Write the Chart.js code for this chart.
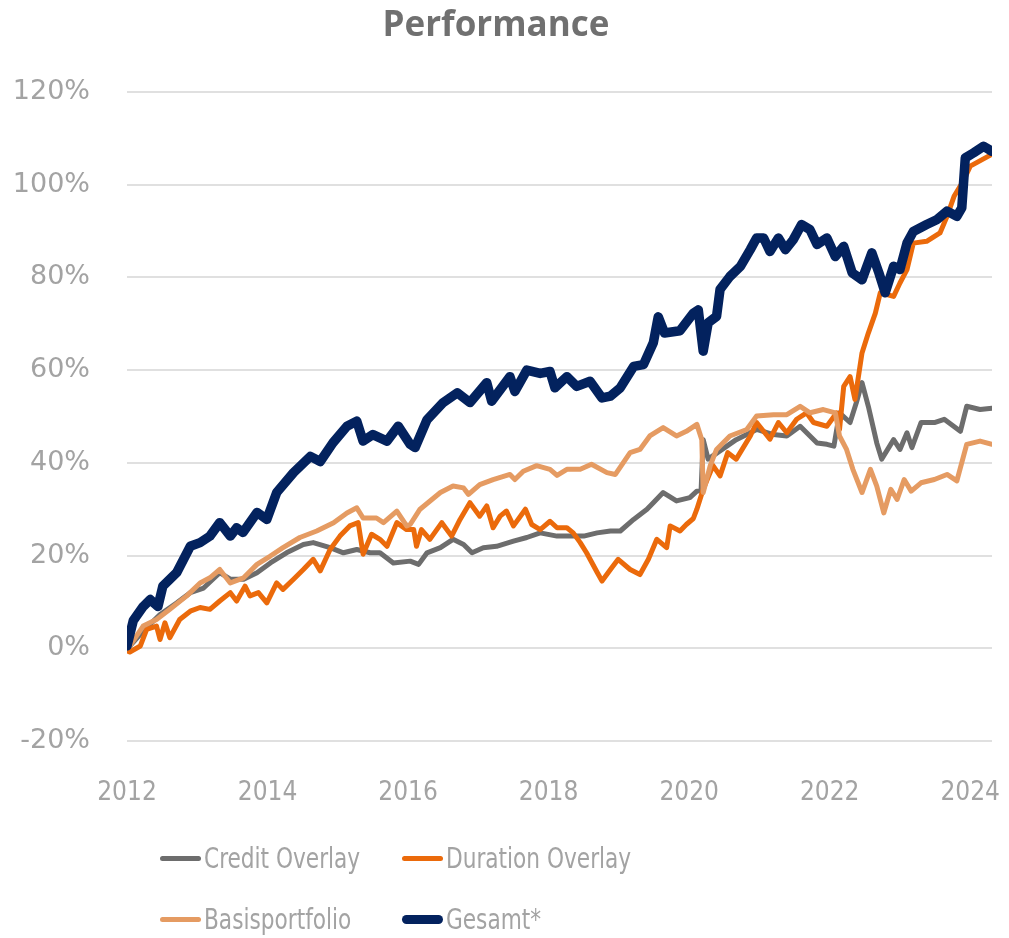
<!DOCTYPE html>
<html>
<head>
<meta charset="utf-8">
<script src="https://cdn.jsdelivr.net/npm/chart.js@4.4.1/dist/chart.umd.min.js"></script>
<style>
  body { margin: 0; background: #fff; }
  #wrap { position: relative; width: 1009px; height: 938px; }
  #legend {
    position: absolute; left: 160px; top: 828px;
    display: grid; grid-template-columns: 242px auto; grid-auto-rows: 61px;
    font-family: 'DejaVu Sans Condensed', 'DejaVu Sans', sans-serif;
    font-size: 28px; color: #a3a3a3;
  }
  .item { display: flex; align-items: center; white-space: nowrap; }
  .mark { display: inline-block; width: 41px; border-radius: 5px; margin-right: 3px; flex: none; }
  .txt { display: inline-block; transform: scaleX(0.86); transform-origin: left center; }
</style>
</head>
<body>
<div id="wrap">
  <canvas id="perf" width="1009" height="938"></canvas>
  <div id="legend"></div>
</div>
<script>
// values, in % ; x = year
const creditX = [2012.0, 2012.04, 2012.23, 2012.47, 2012.71, 2012.9, 2013.09, 2013.32, 2013.47, 2013.66, 2013.85, 2014.04, 2014.27, 2014.51, 2014.65, 2014.89, 2015.08, 2015.27, 2015.46, 2015.6, 2015.79, 2016.03, 2016.15, 2016.27, 2016.46, 2016.64, 2016.79, 2016.91, 2017.07, 2017.26, 2017.5, 2017.69, 2017.88, 2018.12, 2018.31, 2018.5, 2018.69, 2018.88, 2019.02, 2019.21, 2019.4, 2019.49, 2019.63, 2019.82, 2020.01, 2020.11, 2020.17, 2020.2, 2020.27, 2020.47, 2020.67, 2020.96, 2021.2, 2021.39, 2021.58, 2021.82, 2021.96, 2022.06, 2022.14, 2022.29, 2022.38, 2022.46, 2022.55, 2022.67, 2022.74, 2022.91, 2023.0, 2023.1, 2023.17, 2023.3, 2023.49, 2023.63, 2023.86, 2023.95, 2024.14, 2024.31];
const creditY = [0, 0.5, 3.7, 7.3, 9.8, 12, 13, 16.3, 14.9, 14.9, 16.3, 18.4, 20.6, 22.4, 22.8, 21.7, 20.6, 21.3, 20.6, 20.6, 18.4, 18.8, 18.1, 20.6, 21.7, 23.5, 22.4, 20.6, 21.7, 22, 23.1, 23.9, 24.9, 24.2, 24.2, 24.2, 24.9, 25.3, 25.3, 27.8, 30, 31.4, 33.6, 31.8, 32.5, 33.9, 34, 45, 40.8, 42.9, 45, 47.2, 46.1, 45.8, 47.9, 44.3, 44, 43.6, 50.8, 48.7, 53, 57.3, 52.2, 44.3, 40.8, 45, 42.9, 46.5, 43.3, 48.7, 48.7, 49.4, 46.8, 52.2, 51.5, 51.8];

const durationX = [2012.0, 2012.04, 2012.19, 2012.28, 2012.42, 2012.47, 2012.54, 2012.61, 2012.75, 2012.9, 2013.04, 2013.18, 2013.32, 2013.47, 2013.56, 2013.68, 2013.75, 2013.87, 2013.99, 2014.13, 2014.22, 2014.37, 2014.51, 2014.65, 2014.75, 2014.89, 2015.03, 2015.17, 2015.29, 2015.36, 2015.48, 2015.6, 2015.7, 2015.84, 2015.98, 2016.08, 2016.12, 2016.19, 2016.31, 2016.48, 2016.62, 2016.74, 2016.88, 2017.02, 2017.12, 2017.21, 2017.31, 2017.4, 2017.5, 2017.67, 2017.76, 2017.88, 2018.02, 2018.12, 2018.26, 2018.35, 2018.45, 2018.54, 2018.69, 2018.76, 2018.88, 2018.99, 2019.16, 2019.3, 2019.42, 2019.54, 2019.68, 2019.73, 2019.87, 2019.96, 2020.06, 2020.11, 2020.2, 2020.34, 2020.44, 2020.55, 2020.67, 2020.87, 2020.96, 2021.15, 2021.27, 2021.39, 2021.53, 2021.67, 2021.77, 2021.96, 2022.1, 2022.14, 2022.2, 2022.29, 2022.36, 2022.46, 2022.55, 2022.65, 2022.72, 2022.91, 2023.0, 2023.1, 2023.19, 2023.38, 2023.57, 2023.67, 2023.77, 2023.91, 2024.0, 2024.3];
const durationY = [-0.5, -0.8, 0.5, 4.1, 4.8, 1.9, 5.5, 2.3, 6.2, 8, 8.8, 8.4, 10.2, 12, 10.2, 13.4, 11.3, 12, 9.8, 14.1, 12.7, 14.9, 17, 19.2, 16.7, 21.3, 24.2, 26.4, 27.1, 20.3, 24.6, 23.5, 22, 27.1, 25.6, 25.6, 22, 25.6, 23.5, 27.1, 24.2, 27.8, 31.4, 28.5, 30.7, 26, 28.5, 29.6, 26.4, 30, 26.7, 25.6, 27.4, 26, 26, 24.9, 22.8, 20.6, 16.4, 14.5, 17, 19.2, 17, 15.9, 19.2, 23.5, 21.7, 26.4, 25.3, 26.7, 28, 30, 34.3, 39.4, 37.2, 42.2, 40.8, 45.8, 48.7, 45.1, 48.7, 46.5, 49.4, 50.8, 48.7, 47.9, 50.8, 47.2, 56.5, 58.6, 53.7, 63.7, 68, 72.3, 76.7, 75.9, 78.8, 81.7, 87.4, 87.8, 89.6, 93.2, 97.5, 101, 104, 106.5];

const basisX = [2012.0, 2012.04, 2012.23, 2012.42, 2012.61, 2012.85, 2013.04, 2013.18, 2013.32, 2013.47, 2013.66, 2013.85, 2014.04, 2014.22, 2014.46, 2014.7, 2014.94, 2015.13, 2015.27, 2015.36, 2015.55, 2015.65, 2015.84, 2015.98, 2016.03, 2016.17, 2016.46, 2016.64, 2016.79, 2016.86, 2017.02, 2017.21, 2017.45, 2017.52, 2017.64, 2017.83, 2018.02, 2018.12, 2018.26, 2018.45, 2018.61, 2018.83, 2018.95, 2019.16, 2019.3, 2019.44, 2019.63, 2019.82, 2019.96, 2020.11, 2020.18, 2020.2, 2020.3, 2020.39, 2020.58, 2020.82, 2020.96, 2021.2, 2021.39, 2021.58, 2021.72, 2021.91, 2022.08, 2022.14, 2022.24, 2022.33, 2022.46, 2022.58, 2022.67, 2022.77, 2022.87, 2022.96, 2023.06, 2023.16, 2023.3, 2023.49, 2023.67, 2023.81, 2023.95, 2024.14, 2024.31];
const basisY = [0, 0.5, 4.8, 6.2, 8.4, 11.3, 14.1, 15.2, 17, 14.1, 15.2, 18.1, 19.9, 21.7, 23.9, 25.3, 27.1, 29.2, 30.3, 28.1, 28.1, 27.1, 29.6, 26.4, 26.7, 30, 33.6, 35, 34.6, 33.2, 35.3, 36.4, 37.5, 36.4, 38.2, 39.4, 38.6, 37.3, 38.6, 38.6, 39.7, 37.9, 37.5, 42.2, 42.9, 45.8, 47.6, 45.8, 46.8, 48.3, 45, 33.6, 39.4, 42.9, 45.8, 47.2, 50.1, 50.4, 50.4, 52.2, 50.8, 51.5, 50.8, 45.8, 42.9, 38.6, 33.6, 38.6, 35, 29.2, 34.3, 32.1, 36.4, 33.9, 35.7, 36.4, 37.5, 36.1, 44, 44.7, 44];

const gesamtX = [2012.0, 2012.09, 2012.23, 2012.33, 2012.44, 2012.51, 2012.71, 2012.9, 2013.04, 2013.18, 2013.32, 2013.47, 2013.56, 2013.65, 2013.85, 2013.99, 2014.13, 2014.37, 2014.61, 2014.75, 2014.93, 2015.13, 2015.27, 2015.36, 2015.5, 2015.7, 2015.86, 2016.03, 2016.1, 2016.27, 2016.5, 2016.7, 2016.88, 2017.12, 2017.19, 2017.45, 2017.52, 2017.69, 2017.88, 2018.02, 2018.09, 2018.26, 2018.4, 2018.59, 2018.76, 2018.88, 2019.02, 2019.21, 2019.35, 2019.49, 2019.56, 2019.65, 2019.87, 2020.06, 2020.13, 2020.2, 2020.27, 2020.39, 2020.44, 2020.58, 2020.73, 2020.87, 2020.96, 2021.06, 2021.15, 2021.27, 2021.37, 2021.48, 2021.6, 2021.72, 2021.82, 2021.96, 2022.08, 2022.2, 2022.32, 2022.46, 2022.6, 2022.7, 2022.79, 2022.91, 2023.0, 2023.1, 2023.19, 2023.38, 2023.53, 2023.67, 2023.81, 2023.88, 2023.93, 2024.05, 2024.19, 2024.31];
const gesamtY = [0.5, 6, 9, 10.5, 9, 13.4, 16.4, 22, 22.8, 24.2, 27.1, 24.2, 26, 25, 29.3, 27.8, 33.6, 37.9, 41.4, 40.3, 44.3, 47.9, 49, 44.7, 46.1, 44.7, 47.9, 44, 43.3, 49.3, 53, 55.1, 53, 57.3, 53.3, 58.6, 55.4, 60, 59.3, 59.7, 56.2, 58.6, 56.5, 57.6, 54, 54.4, 56.2, 60.8, 61.2, 65.9, 71.5, 68, 68.5, 72.3, 73, 64.1, 70.2, 71.6, 77.4, 80.2, 82.4, 86, 88.5, 88.5, 85.6, 88.5, 86, 88.1, 91.4, 90.3, 87.1, 88.5, 84.5, 86.7, 81, 79.5, 85.3, 81, 76.7, 82.4, 81.7, 87.4, 89.9, 91.4, 92.5, 94.3, 93.2, 95, 105.8, 106.9, 108.3, 107.2];

const seriesNames = ['Credit Overlay', 'Duration Overlay', 'Basisportfolio', 'Gesamt*'];
const seriesColors = ['#6d6d6d', '#eb6a0b', '#e59b62', '#03225e'];
const seriesWidths = [5, 5, 5, 9.5];
const yTicks = { min: -20, max: 120, step: 20 };
const xTicks = { min: 2012, max: 2024.31, step: 2 };

function pts(xs, ys) {
  return xs.map((x, i) => ({ x: x, y: ys[i] }));
}

const allData = [pts(creditX, creditY), pts(durationX, durationY), pts(basisX, basisY), pts(gesamtX, gesamtY)];

const datasets = seriesNames.map((name, i) => ({
  label: name,
  data: allData[i],
  borderColor: seriesColors[i],
  backgroundColor: seriesColors[i],
  borderWidth: seriesWidths[i],
  pointRadius: 0,
  tension: 0,
  borderJoinStyle: 'round',
  borderCapStyle: 'round',
  order: 3 - i // later series on top
}));

new Chart(document.getElementById('perf'), {
  type: 'line',
  data: { datasets: datasets },
  options: {
    responsive: false,
    animation: false,
    layout: { padding: { left: 0, right: 17, top: 0, bottom: 0 } },
    plugins: {
      legend: { display: false },
      tooltip: { enabled: false },
      title: {
        display: true,
        text: 'Performance',
        color: '#707070',
        font: { family: "'Open Sans', sans-serif", size: 35, weight: 'bold' },
        padding: { top: 5, bottom: 45 }
      }
    },
    scales: {
      x: {
        type: 'linear',
        min: xTicks.min,
        max: xTicks.max,
        afterFit: s => { s.height = 197; s.paddingLeft = 0; s.paddingRight = 0; },
        grid: { display: false, drawTicks: false },
        border: { display: false },
        ticks: {
          stepSize: xTicks.step,
          includeBounds: false,
          maxRotation: 0,
          padding: 37,
          color: '#a3a3a3',
          font: { family: "'DejaVu Sans Condensed', 'DejaVu Sans', sans-serif", size: 26 },
          callback: v => String(v)
        }
      },
      y: {
        min: yTicks.min,
        max: yTicks.max,
        afterFit: s => { s.width = 127; },
        grid: { color: '#e0e0e0', lineWidth: 2, drawTicks: false },
        border: { display: false },
        ticks: {
          stepSize: yTicks.step,
          padding: 37,
          color: '#a3a3a3',
          font: { family: "'DejaVu Sans', sans-serif", size: 27 },
          callback: v => v + '%'
        }
      }
    }
  }
});

// legend laid out in two columns like the original
const legend = document.getElementById('legend');
seriesNames.forEach((name, i) => {
  const item = document.createElement('div');
  item.className = 'item';
  const mark = document.createElement('span');
  mark.className = 'mark';
  mark.style.height = (i === 3 ? 9 : 4.5) + 'px';
  mark.style.background = seriesColors[i];
  const txt = document.createElement('span');
  txt.className = 'txt';
  txt.textContent = name;
  item.appendChild(mark);
  item.appendChild(txt);
  legend.appendChild(item);
});
</script>
</body>
</html>
